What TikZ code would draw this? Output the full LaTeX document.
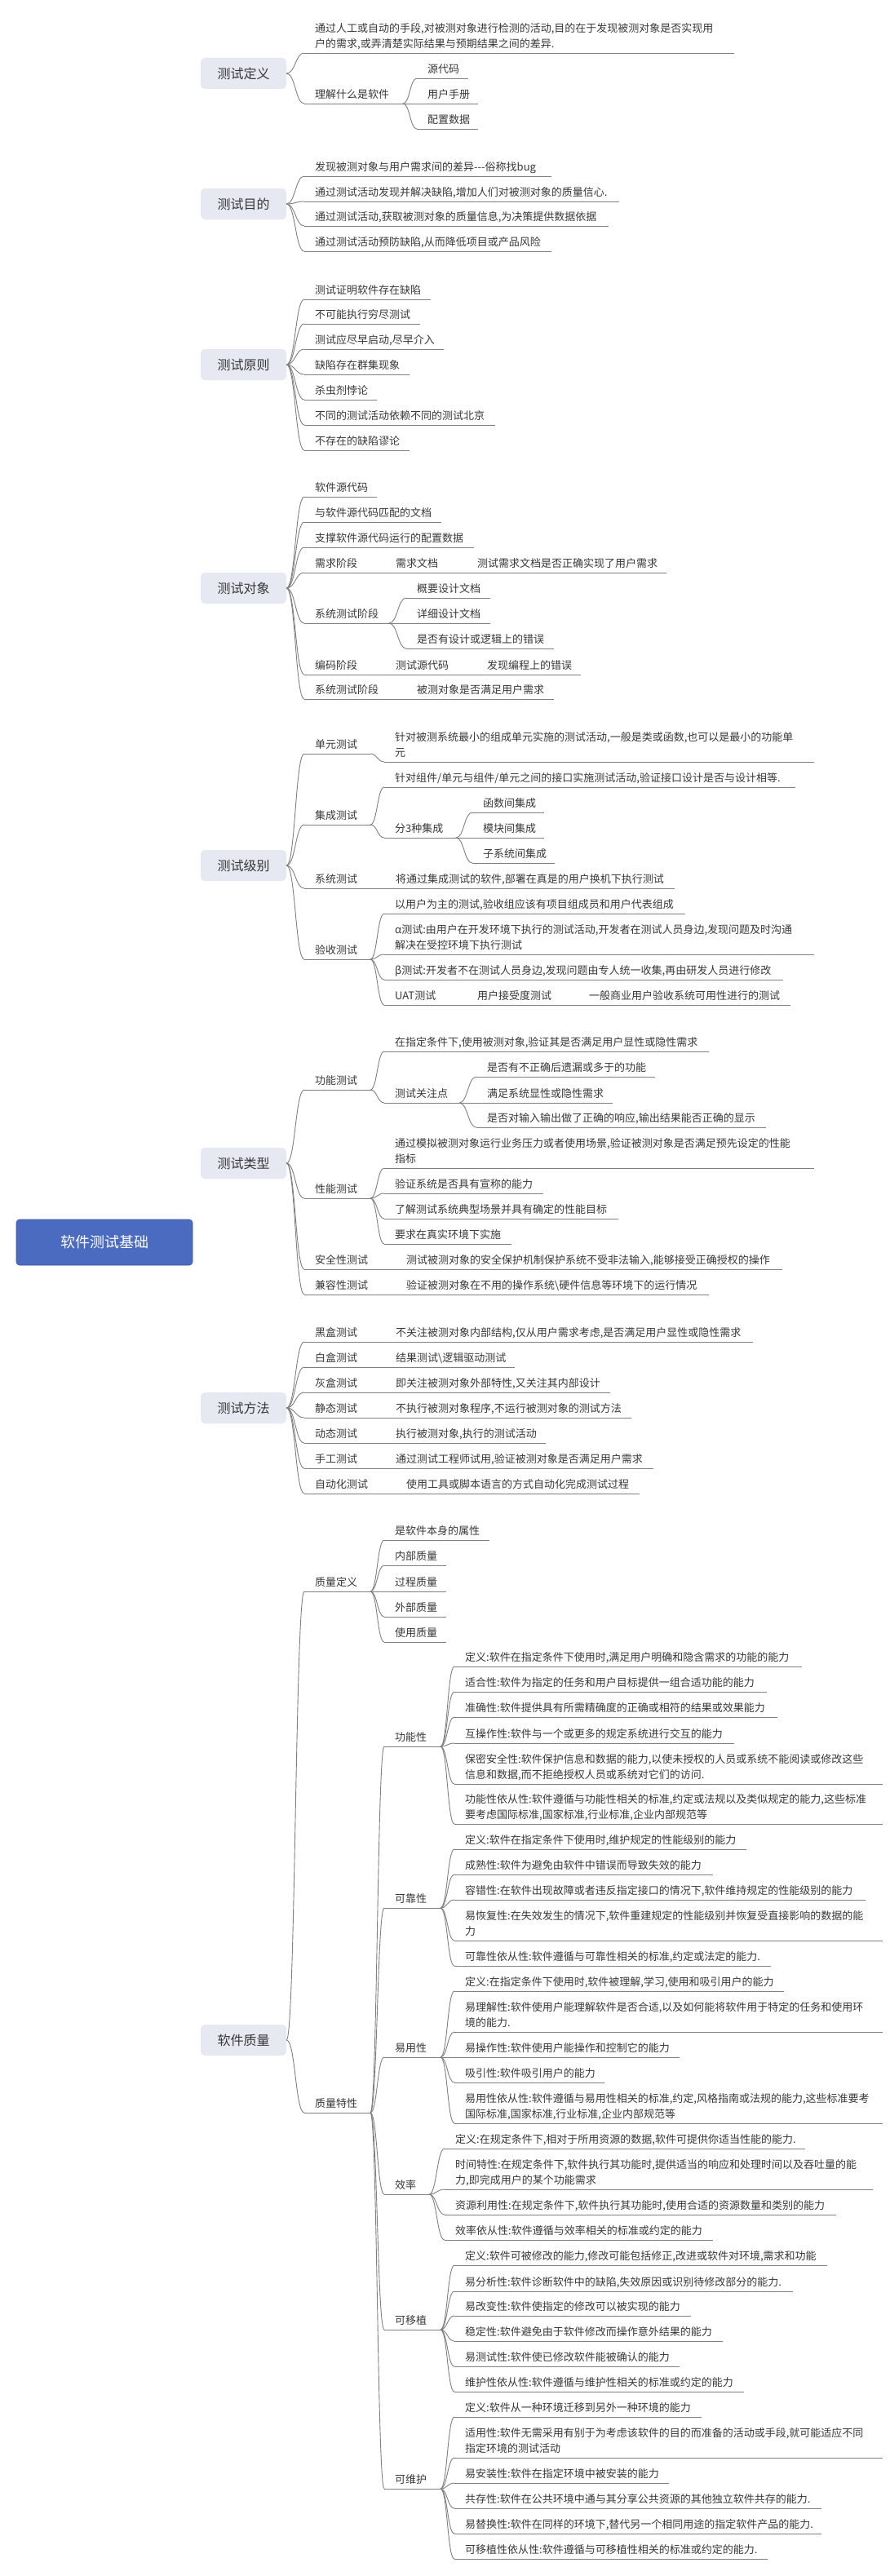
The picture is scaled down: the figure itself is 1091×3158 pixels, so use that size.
\documentclass[tikz,border=0pt]{standalone}
\usepackage{fontspec}
\setmainfont{Noto Sans CJK SC}
\usetikzlibrary{calc}
\pgfdeclarelayer{bg}\pgfsetlayers{bg,main}
\definecolor{lnc}{HTML}{7F7F7F}
\definecolor{txc}{HTML}{383838}
\definecolor{catc}{HTML}{E6E8F2}
\definecolor{rootc}{HTML}{4A6BC0}
\tikzset{
  ln/.style={draw=lnc,line width=0.9pt},
  txt/.style={font=\fontsize{13}{19.5}\selectfont,text=txc,inner sep=0pt,anchor=south west,text depth=0pt,align=left},
  catbox/.style={fill=catc,rounded corners=5pt,minimum width=105pt,minimum height=38pt,inner sep=0pt,font=\fontsize{16}{16}\selectfont,text=txc},
  rootbox/.style={fill=rootc,draw=rootc!80!black,line width=0.6pt,rounded corners=4pt,minimum width=216pt,minimum height=56pt,inner sep=0pt,font=\fontsize{18}{18}\selectfont,text=white}
}
\newcommand\mmleaf[5]{%
  \draw[ln] (#2,#4) coordinate (#1L) -- (#3,#4) coordinate (#1R);
  \node[txt] (#1) at (#2+13,#4-6) {#5};}
\newcommand\mmconn[2]{%
  \path ($(#1)!0.5!(#2)$) coordinate (cnm);
  \draw[ln] (#1) .. controls (cnm |- #1) and (cnm |- #2) .. (#2);}
\begin{document}
\begin{tikzpicture}[x=1pt,y=-1pt]
\useasboundingbox[fill=white] (0,0) rectangle (1091,3158);
% categories
\node[catbox] (k1) at (298.5,90) {测试定义};
\node[catbox] (k2) at (298.5,250) {测试目的};
\node[catbox] (k3) at (298.5,447) {测试原则};
\node[catbox] (k4) at (298.5,721) {测试对象};
\node[catbox] (k5) at (298.5,1061) {测试级别};
\node[catbox] (k6) at (298.5,1426) {测试类型};
\node[catbox] (k7) at (298.5,1726) {测试方法};
\node[catbox] (k8) at (298.5,2501) {软件质量};
\coordinate (rs) at (135,1523);
\begin{pgfonlayer}{bg}
\foreach \i in {1,...,8} \draw[ln] (rs) .. controls (rs |- k\i.west) .. (k\i.west);
\end{pgfonlayer}
\node[rootbox] (root) at (128,1523) {软件测试基础};

% 测试定义
\mmleaf{d1}{373}{900}{65}{通过人工或自动的手段,对被测对象进行检测的活动,目的在于发现被测对象是否实现用\\户的需求,或弄清楚实际结果与预期结果之间的差异.}
\mmleaf{d2}{373}{494}{127}{理解什么是软件}
\mmleaf{d21}{511}{574}{96}{源代码}
\mmleaf{d22}{511}{586}{127}{用户手册}
\mmleaf{d23}{511}{586}{158}{配置数据}
\mmconn{k1.east}{d1L}\mmconn{k1.east}{d2L}
\mmconn{d2R}{d21L}\mmconn{d2R}{d22L}\mmconn{d2R}{d23L}

% 测试目的
\mmleaf{m1}{373}{676}{216}{发现被测对象与用户需求间的差异-{}-{}-俗称找bug}
\mmleaf{m2}{373}{759}{247}{通过测试活动发现并解决缺陷,增加人们对被测对象的质量信心.}
\mmleaf{m3}{373}{746}{277}{通过测试活动,获取被测对象的质量信息,为决策提供数据依据}
\mmleaf{m4}{373}{676}{308}{通过测试活动预防缺陷,从而降低项目或产品风险}
\foreach \n in {m1,m2,m3,m4} {\mmconn{k2.east}{\n L}}

% 测试原则
\mmleaf{p1}{373}{528}{367}{测试证明软件存在缺陷}
\mmleaf{p2}{373}{515}{397}{不可能执行穷尽测试}
\mmleaf{p3}{373}{544}{428}{测试应尽早启动,尽早介入}
\mmleaf{p4}{373}{502}{459}{缺陷存在群集现象}
\mmleaf{p5}{373}{462}{490}{杀虫剂悖论}
\mmleaf{p6}{373}{607}{521}{不同的测试活动依赖不同的测试北京}
\mmleaf{p7}{373}{502}{552}{不存在的缺陷谬论}
\foreach \n in {p1,p2,p3,p4,p5,p6,p7} {\mmconn{k3.east}{\n L}}

% 测试对象
\mmleaf{o1}{373}{462}{609}{软件源代码}
\mmleaf{o2}{373}{541}{640}{与软件源代码匹配的文档}
\mmleaf{o3}{373}{581}{671}{支撑软件源代码运行的配置数据}
\mmleaf{o4}{373}{455}{702}{需求阶段}
\mmleaf{o41}{472}{555}{702}{需求文档}
\mmleaf{o411}{572}{817}{702}{测试需求文档是否正确实现了用户需求}
\mmleaf{o5}{373}{477}{764}{系统测试阶段}
\mmleaf{o51}{498}{601}{733}{概要设计文档}
\mmleaf{o52}{498}{601}{764}{详细设计文档}
\mmleaf{o53}{498}{679}{795}{是否有设计或逻辑上的错误}
\mmleaf{o6}{373}{455}{827}{编码阶段}
\mmleaf{o61}{472}{567}{827}{测试源代码}
\mmleaf{o611}{584}{712}{827}{发现编程上的错误}
\mmleaf{o7}{373}{481}{857}{系统测试阶段}
\mmleaf{o71}{498}{679}{857}{被测对象是否满足用户需求}
\foreach \n in {o1,o2,o3,o4,o5,o6,o7} {\mmconn{k4.east}{\n L}}
\mmconn{o4R}{o41L}\mmconn{o41R}{o411L}
\mmconn{o5R}{o51L}\mmconn{o5R}{o52L}\mmconn{o5R}{o53L}
\mmconn{o6R}{o61L}\mmconn{o61R}{o611L}
\mmconn{o7R}{o71L}

% 测试级别
\mmleaf{l1}{373}{454}{924}{单元测试}
\mmleaf{l11}{471}{998}{934}{针对被测系统最小的组成单元实施的测试活动,一般是类或函数,也可以是最小的功能单\\元}
\mmleaf{l2}{373}{454}{1011}{集成测试}
\mmleaf{l21}{471}{975}{965}{针对组件/单元与组件/单元之间的接口实施测试活动,验证接口设计是否与设计相等.}
\mmleaf{l22}{471}{559}{1027}{分3种集成}
\mmleaf{l221}{579}{667}{996}{函数间集成}
\mmleaf{l222}{579}{667}{1027}{模块间集成}
\mmleaf{l223}{579}{680}{1058}{子系统间集成}
\mmleaf{l3}{373}{455}{1089}{系统测试}
\mmleaf{l31}{472}{827}{1089}{将通过集成测试的软件,部署在真是的用户换机下执行测试}
\mmleaf{l4}{373}{454}{1176}{验收测试}
\mmleaf{l41}{471}{840}{1120}{以用户为主的测试,验收组应该有项目组成员和用户代表组成}
\mmleaf{l42}{471}{998}{1170}{α测试:由用户在开发环境下执行的测试活动,开发者在测试人员身边,发现问题及时沟通\\解决在受控环境下执行测试}
\mmleaf{l43}{471}{960}{1201}{β测试:开发者不在测试人员身边,发现问题由专人统一收集,再由研发人员进行修改}
\mmleaf{l44}{471}{555}{1232}{UAT测试}
\mmleaf{l441}{572}{692}{1232}{用户接受度测试}
\mmleaf{l442}{709}{969}{1232}{一般商业用户验收系统可用性进行的测试}
\foreach \n in {l1,l2,l3,l4} {\mmconn{k5.east}{\n L}}
\mmconn{l1R}{l11L}
\mmconn{l2R}{l21L}\mmconn{l2R}{l22L}
\mmconn{l22R}{l221L}\mmconn{l22R}{l222L}\mmconn{l22R}{l223L}
\mmconn{l3R}{l31L}
\foreach \n in {l41,l42,l43,l44} {\mmconn{l4R}{\n L}}
\mmconn{l44R}{l441L}\mmconn{l441R}{l442L}

% 测试类型
\mmleaf{t1}{373}{454}{1336}{功能测试}
\mmleaf{t11}{471}{869}{1289}{在指定条件下,使用被测对象,验证其是否满足用户显性或隐性需求}
\mmleaf{t12}{471}{563}{1352}{测试关注点}
\mmleaf{t121}{584}{803}{1320}{是否有不正确后遗漏或多于的功能}
\mmleaf{t122}{584}{751}{1352}{满足系统显性或隐性需求}
\mmleaf{t123}{584}{939}{1382}{是否对输入输出做了正确的响应,输出结果能否正确的显示}
\mmleaf{t2}{373}{454}{1469}{性能测试}
\mmleaf{t21}{471}{998}{1432}{通过模拟被测对象运行业务压力或者使用场景,验证被测对象是否满足预先设定的性能\\指标}
\mmleaf{t22}{471}{666}{1463}{验证系统是否具有宣称的能力}
\mmleaf{t23}{471}{758}{1494}{了解测试系统典型场景并具有确定的性能目标}
\mmleaf{t24}{471}{627}{1525}{要求在真实环境下实施}
\mmleaf{t3}{373}{468}{1556}{安全性测试}
\mmleaf{t31}{485}{959}{1556}{测试被测对象的安全保护机制保护系统不受非法输入,能够接受正确授权的操作}
\mmleaf{t4}{373}{468}{1587}{兼容性测试}
\mmleaf{t41}{485}{869}{1587}{验证被测对象在不用的操作系统\textbackslash 硬件信息等环境下的运行情况}
\foreach \n in {t1,t2,t3,t4} {\mmconn{k6.east}{\n L}}
\mmconn{t1R}{t11L}\mmconn{t1R}{t12L}
\foreach \n in {t121,t122,t123} {\mmconn{t12R}{\n L}}
\foreach \n in {t21,t22,t23,t24} {\mmconn{t2R}{\n L}}
\mmconn{t3R}{t31L}\mmconn{t4R}{t41L}

% 测试方法
\mmleaf{f1}{373}{455}{1645}{黑盒测试}
\mmleaf{f11}{472}{923}{1645}{不关注被测对象内部结构,仅从用户需求考虑,是否满足用户显性或隐性需求}
\mmleaf{f2}{373}{455}{1676}{白盒测试}
\mmleaf{f21}{472}{631}{1676}{结果测试\textbackslash 逻辑驱动测试}
\mmleaf{f3}{373}{455}{1707}{灰盒测试}
\mmleaf{f31}{472}{748}{1707}{即关注被测对象外部特性,又关注其内部设计}
\mmleaf{f4}{373}{455}{1738}{静态测试}
\mmleaf{f41}{472}{774}{1738}{不执行被测对象程序,不运行被测对象的测试方法}
\mmleaf{f5}{373}{455}{1769}{动态测试}
\mmleaf{f51}{472}{669}{1769}{执行被测对象,执行的测试活动}
\mmleaf{f6}{373}{455}{1800}{手工测试}
\mmleaf{f61}{472}{801}{1800}{通过测试工程师试用,验证被测对象是否满足用户需求}
\mmleaf{f7}{373}{468}{1831}{自动化测试}
\mmleaf{f71}{485}{784}{1831}{使用工具或脚本语言的方式自动化完成测试过程}
\foreach \n in {f1,f2,f3,f4,f5,f6,f7} {\mmconn{k7.east}{\n L}\mmconn{\n R}{\n 1L}}

% 软件质量
\mmleaf{q1}{373}{454}{1951}{质量定义}
\mmleaf{q11}{471}{600}{1888}{是软件本身的属性}
\mmleaf{q12}{471}{547}{1919}{内部质量}
\mmleaf{q13}{471}{547}{1951}{过程质量}
\mmleaf{q14}{471}{547}{1982}{外部质量}
\mmleaf{q15}{471}{547}{2013}{使用质量}
\mmleaf{q2}{373}{454}{2590}{质量特性}
\mmconn{k8.east}{q1L}\mmconn{k8.east}{q2L}
\foreach \n in {q11,q12,q13,q14,q15} {\mmconn{q1R}{\n L}}

\mmleaf{fa}{471}{540}{2141}{功能性}
\mmleaf{fa1}{557}{983}{2043}{定义:软件在指定条件下使用时,满足用户明确和隐含需求的功能的能力}
\mmleaf{fa2}{557}{940}{2074}{适合性:软件为指定的任务和用户目标提供一组合适功能的能力}
\mmleaf{fa3}{557}{953}{2105}{准确性:软件提供具有所需精确度的正确或相符的结果或效果能力}
\mmleaf{fa4}{557}{900}{2137}{互操作性:软件与一个或更多的规定系统进行交互的能力}
\mmleaf{fa5}{557}{1082}{2187}{保密安全性:软件保护信息和数据的能力,以使未授权的人员或系统不能阅读或修改这些\\信息和数据,而不拒绝授权人员或系统对它们的访问.}
\mmleaf{fa6}{557}{1082}{2236}{功能性依从性:软件遵循与功能性相关的标准,约定或法规以及类似规定的能力,这些标准\\要考虑国际标准,国家标准,行业标准,企业内部规范等}
\foreach \n in {fa1,fa2,fa3,fa4,fa5,fa6} {\mmconn{faR}{\n L}}

\mmleaf{rb}{471}{540}{2339}{可靠性}
\mmleaf{rb1}{557}{915}{2267}{定义:软件在指定条件下使用时,维护规定的性能级别的能力}
\mmleaf{rb2}{557}{874}{2298}{成熟性:软件为避免由软件中错误而导致失效的能力}
\mmleaf{rb3}{557}{1061}{2329}{容错性:在软件出现故障或者违反指定接口的情况下,软件维持规定的性能级别的能力}
\mmleaf{rb4}{557}{1082}{2379}{易恢复性:在失效发生的情况下,软件重建规定的性能级别并恢复受直接影响的数据的能\\力}
\mmleaf{rb5}{557}{945}{2410}{可靠性依从性:软件遵循与可靠性相关的标准,约定或法定的能力.}
\foreach \n in {rb1,rb2,rb3,rb4,rb5} {\mmconn{rbR}{\n L}}

\mmleaf{us}{471}{540}{2522}{易用性}
\mmleaf{us1}{557}{961}{2441}{定义:在指定条件下使用时,软件被理解,学习,使用和吸引用户的能力}
\mmleaf{us2}{557}{1082}{2491}{易理解性:软件使用户能理解软件是否合适,以及如何能将软件用于特定的任务和使用环\\境的能力.}
\mmleaf{us3}{557}{833}{2522}{易操作性:软件使用户能操作和控制它的能力}
\mmleaf{us4}{557}{741}{2553}{吸引性:软件吸引用户的能力}
\mmleaf{us5}{557}{1082}{2603}{易用性依从性:软件遵循与易用性相关的标准,约定,风格指南或法规的能力,这些标准要考\\国际标准,国家标准,行业标准,企业内部规范等}
\foreach \n in {us1,us2,us3,us4,us5} {\mmconn{usR}{\n L}}

\mmleaf{ef}{471}{526}{2690}{效率}
\mmleaf{ef1}{545}{987}{2634}{定义:在规定条件下,相对于所用资源的数据,软件可提供你适当性能的能力.}
\mmleaf{ef2}{545}{1070}{2684}{时间特性:在规定条件下,软件执行其功能时,提供适当的响应和处理时间以及吞吐量的能\\力,即完成用户的某个功能需求}
\mmleaf{ef3}{545}{1025}{2715}{资源利用性:在规定条件下,软件执行其功能时,使用合适的资源数量和类别的能力}
\mmleaf{ef4}{545}{874}{2746}{效率依从性:软件遵循与效率相关的标准或约定的能力}
\foreach \n in {ef1,ef2,ef3,ef4} {\mmconn{efR}{\n L}}

\mmleaf{po}{471}{540}{2856}{可移植}
\mmleaf{po1}{557}{1014}{2777}{定义:软件可被修改的能力,修改可能包括修正,改进或软件对环境,需求和功能}
\mmleaf{po2}{557}{972}{2809}{易分析性:软件诊断软件中的缺陷,失效原因或识别待修改部分的能力.}
\mmleaf{po3}{557}{847}{2839}{易改变性:软件使指定的修改可以被实现的能力}
\mmleaf{po4}{557}{886}{2870}{稳定性:软件避免由于软件修改而操作意外结果的能力}
\mmleaf{po5}{557}{833}{2901}{易测试性:软件使已修改软件能被确认的能力}
\mmleaf{po6}{557}{912}{2932}{维护性依从性:软件遵循与维护性相关的标准或约定的能力}
\foreach \n in {po1,po2,po3,po4,po5,po6} {\mmconn{poR}{\n L}}

\mmleaf{mt}{471}{540}{3051}{可维护}
\mmleaf{mt1}{557}{860}{2963}{定义:软件从一种环境迁移到另外一种环境的能力}
\mmleaf{mt2}{557}{1082}{3013}{适用性:软件无需采用有别于为考虑该软件的目的而准备的活动或手段,就可能适应不同\\指定环境的测试活动}
\mmleaf{mt3}{557}{820}{3044}{易安装性:软件在指定环境中被安装的能力}
\mmleaf{mt4}{557}{1007}{3075}{共存性:软件在公共环境中通与其分享公共资源的其他独立软件共存的能力.}
\mmleaf{mt5}{557}{1007}{3106}{易替换性:软件在同样的环境下,替代另一个相同用途的指定软件产品的能力.}
\mmleaf{mt6}{557}{941}{3137}{可移植性依从性:软件遵循与可移植性相关的标准或约定的能力.}
\foreach \n in {mt1,mt2,mt3,mt4,mt5,mt6} {\mmconn{mtR}{\n L}}

\foreach \n in {fa,rb,us,ef,po,mt} {\mmconn{q2R}{\n L}}
\end{tikzpicture}
\end{document}
